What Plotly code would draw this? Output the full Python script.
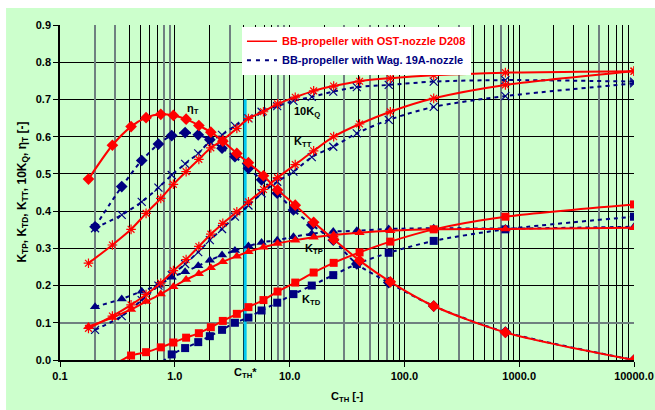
import numpy as np
import plotly.graph_objects as go

# ---------------- data ----------------
CTH_RED = [0.177, 0.286, 0.416, 0.562, 0.755, 0.972, 1.255, 1.62, 2.06, 2.62, 3.47, 4.38,
           5.92, 7.85, 11.2, 16.2, 24.2, 40.7, 75.4, 180, 758, 10000]
ETA_RED = [0.486, 0.577, 0.627, 0.651, 0.660, 0.657, 0.647, 0.630, 0.612, 0.588, 0.555, 0.530,
           0.495, 0.457, 0.416, 0.370, 0.324, 0.267, 0.210, 0.145, 0.074, 0.0]
KQ10_RED = [0.260, 0.309, 0.351, 0.394, 0.434, 0.472, 0.506, 0.539, 0.570, 0.591, 0.622, 0.649,
            0.667, 0.688, 0.706, 0.723, 0.736, 0.749, 0.757, 0.765, 0.772, 0.776]
KTT_RED = [0.085, 0.118, 0.148, 0.176, 0.207, 0.240, 0.270, 0.305, 0.338, 0.367, 0.398, 0.425,
           0.458, 0.490, 0.525, 0.562, 0.600, 0.634, 0.667, 0.703, 0.739, 0.776]
KTP_RED = [0.090, 0.114, 0.136, 0.157, 0.177, 0.197, 0.216, 0.232, 0.248, 0.264, 0.279, 0.291,
           0.303, 0.313, 0.322, 0.330, 0.336, 0.342, 0.347, 0.351, 0.352, 0.355]
KTD_RED = [-0.040, -0.014, 0.012, 0.021, 0.034, 0.047, 0.060, 0.072, 0.088, 0.105, 0.124, 0.142,
           0.161, 0.184, 0.208, 0.235, 0.261, 0.289, 0.318, 0.351, 0.385, 0.418]

CTH_BLUE = [0.202, 0.345, 0.515, 0.72, 0.94, 1.23, 1.6, 2.02, 2.58, 3.34, 4.38, 5.7, 7.8,
            10.8, 15.6, 24, 38.5, 73, 180, 758, 10000]
ETA_BLUE = [0.358, 0.466, 0.536, 0.580, 0.603, 0.611, 0.605, 0.592, 0.569, 0.546, 0.515, 0.484,
            0.448, 0.403, 0.363, 0.322, 0.258, 0.208, 0.145, 0.075, 0.0]
KQ10_BLUE = [0.354, 0.390, 0.425, 0.463, 0.497, 0.527, 0.555, 0.587, 0.605, 0.629, 0.649, 0.667,
             0.682, 0.696, 0.707, 0.721, 0.733, 0.739, 0.748, 0.752, 0.748]
KTT_BLUE = [0.081, 0.118, 0.161, 0.200, 0.228, 0.258, 0.290, 0.322, 0.352, 0.385, 0.415, 0.448,
            0.479, 0.506, 0.545, 0.573, 0.609, 0.645, 0.680, 0.709, 0.743]
KTP_BLUE = [0.143, 0.164, 0.185, 0.201, 0.222, 0.237, 0.253, 0.268, 0.282, 0.294, 0.306, 0.316,
            0.322, 0.331, 0.339, 0.345, 0.347, 0.352, 0.354, 0.353, 0.358]
KTD_BLUE = [-0.070, -0.045, -0.025, -0.012, 0.015, 0.032, 0.048, 0.064, 0.081, 0.100, 0.114,
            0.133, 0.154, 0.177, 0.200, 0.228, 0.258, 0.288, 0.320, 0.351, 0.385]

CTH_STAR = 4.1
CTH_STAR_TOP = 0.70

X_TICKS = [0.1, 1, 10, 100, 1000, 10000]
X_TICKTEXT = ["0.1", "1.0", "10.0", "100.0", "1000.0", "10000.0"]
Y_TICKS = [round(0.1 * i, 1) for i in range(10)]

CURVE_LABELS = ["η<sub>T</sub>", "10K<sub>Q</sub>", "K<sub>TT</sub>", "K<sub>TP</sub>", "K<sub>TD</sub>"]
CURVE_LABEL_X = [1.44, 14.1, 13.1, 16.3, 15.6]
CURVE_LABEL_Y = [0.675, 0.667, 0.587, 0.297, 0.161]

LEGEND_NAMES = ["BB-propeller with OST-nozzle D208", "BB-propeller with Wag. 19A-nozzle"]

# ---------------- styling ----------------
RED = "#ff0000"
NAVY = "#000080"
FONT = "Liberation Sans, Arial, sans-serif"

fig = go.Figure()

def add(x, y, color, symbol, dash, size, lw=2):
    open_sym = symbol.endswith("open")
    fig.add_trace(go.Scatter(
        x=x, y=y, mode="lines+markers", showlegend=False,
        line=dict(color=color, width=lw, dash=dash, shape="spline", smoothing=0.8),
        marker=dict(symbol=symbol, size=size, color=color,
                    line=dict(color=color, width=1.2 if open_sym else 0)),
        cliponaxis=True,
    ))

# cyan C_TH* line
fig.add_trace(go.Scatter(x=[CTH_STAR, CTH_STAR], y=[0, CTH_STAR_TOP], mode="lines",
                         line=dict(color="#00c8f0", width=3), showlegend=False))

dash_b = "4px,4px"
add(CTH_BLUE, ETA_BLUE, NAVY, "diamond", dash_b, 9)
add(CTH_BLUE, KQ10_BLUE, NAVY, "x-thin-open", dash_b, 8)
add(CTH_BLUE, KTT_BLUE, NAVY, "x-thin-open", dash_b, 8)
add(CTH_BLUE, KTP_BLUE, NAVY, "triangle-up", dash_b, 9)
add(CTH_BLUE, KTD_BLUE, NAVY, "square", dash_b, 8)

add(CTH_RED, ETA_RED, RED, "diamond", "solid", 9)
add(CTH_RED, KQ10_RED, RED, "asterisk-open", "solid", 8)
add(CTH_RED, KTT_RED, RED, "asterisk-open", "solid", 8)
add(CTH_RED, KTP_RED, RED, "triangle-up", "solid", 9)
add(CTH_RED, KTD_RED, RED, "square", "solid", 8)

# legend-only entries
fig.add_trace(go.Scatter(x=[None], y=[None], mode="lines",
                         name=f"<b><span style='color:{RED}'>{LEGEND_NAMES[0]}</span></b>",
                         line=dict(color=RED, width=1.5)))
fig.add_trace(go.Scatter(x=[None], y=[None], mode="lines",
                         name=f"<b><span style='color:{NAVY}'>{LEGEND_NAMES[1]}</span></b>",
                         line=dict(color=NAVY, width=2, dash="4px,5px")))

# grid positions
minor_vals = [m * 10.0 ** d for d in range(-1, 4) for m in range(2, 10)]
grey_vals = [0.2, 0.3, 0.8, 0.9, 3, 8, 9, 30, 50, 70, 300, 700, 5000, 10000]

fig.update_layout(
    width=655, height=410,
    margin=dict(l=60, r=21, t=25, b=50),
    paper_bgcolor="white",
    plot_bgcolor="#ccffff",
    font=dict(family=FONT, size=11, color="black"),
    xaxis=dict(type="log", range=[-1, 4], tickvals=X_TICKS, ticktext=X_TICKTEXT,
               automargin=False,
               ticks="outside", ticklen=5, tickcolor="black", tickwidth=1,
               showline=True, linecolor="black", linewidth=1.5,
               showgrid=True, gridcolor="black", gridwidth=1,
               minor=dict(tickmode="array", tickvals=minor_vals, showgrid=True,
                          gridcolor="black", gridwidth=1, ticks=""),
               tickfont=dict(family=FONT, size=11, weight="bold"), zeroline=False),
    xaxis2=dict(type="log", range=[-1, 4], overlaying="x", tickvals=grey_vals,
                automargin=False,
                showticklabels=False, ticks="", showgrid=True, gridcolor="#6f8080",
                gridwidth=2, showline=False, zeroline=False),
    yaxis=dict(range=[0, 0.9], tickvals=Y_TICKS, tickformat=".1f", automargin=False,
               ticks="outside", ticklen=5, tickcolor="black",
               showline=True, linecolor="black", linewidth=1.5,
               showgrid=True, gridcolor="black", gridwidth=1, zeroline=False,
               tickfont=dict(family=FONT, size=11, weight="bold")),
    yaxis2=dict(range=[0, 0.9], overlaying="y", tickvals=[0.1], showticklabels=False,
                automargin=False,
                ticks="", showgrid=True, gridcolor="#6f8080", gridwidth=2, zeroline=False),
    legend=dict(x=0.317, y=0.995, xanchor="left", yanchor="top",
                bgcolor="white", borderwidth=0,
                font=dict(family=FONT, size=11), tracegroupgap=0, itemwidth=30),
    shapes=[dict(type="rect", xref="paper", yref="paper", layer="below",
                 x0=-0.094, x1=1.04, y0=-0.16, y1=1.0507,
                 fillcolor="#ccffcc", line=dict(width=0))],
)

# dummy trace to activate overlay axes
fig.add_trace(go.Scatter(x=[None], y=[None], xaxis="x2", yaxis="y2", showlegend=False))

ann = []
for t, x, y in zip(CURVE_LABELS, CURVE_LABEL_X, CURVE_LABEL_Y):
    ann.append(dict(x=np.log10(x), y=y, xref="x", yref="y", text=f"<b>{t}</b>",
                    xanchor="center", yanchor="middle",
                    showarrow=False, font=dict(family=FONT, size=11, color="black")))
ann.append(dict(x=np.log10(CTH_STAR), y=-0.04, xref="x", yref="paper",
                text="<b>C<sub>TH</sub></b><b>*</b>", showarrow=False,
                xanchor="center", yanchor="middle",
                font=dict(family=FONT, size=11, color="black")))
ann.append(dict(x=0.5, y=-0.11, xref="paper", yref="paper", text="<b>C<sub>TH</sub> [-]</b>",
                xanchor="center", yanchor="middle",
                showarrow=False, font=dict(family=FONT, size=11, color="black")))
ann.append(dict(x=-0.066, y=0.5, xref="paper", yref="paper", textangle=-90,
                xanchor="center", yanchor="middle",
                text="<b>K<sub>TP</sub>, K<sub>TD</sub>, K<sub>TT</sub>, 10K<sub>Q</sub>, η<sub>T</sub> [-]</b>",
                showarrow=False, font=dict(family=FONT, size=12, color="black")))
fig.update_layout(annotations=ann)

fig.write_html("out.html")
